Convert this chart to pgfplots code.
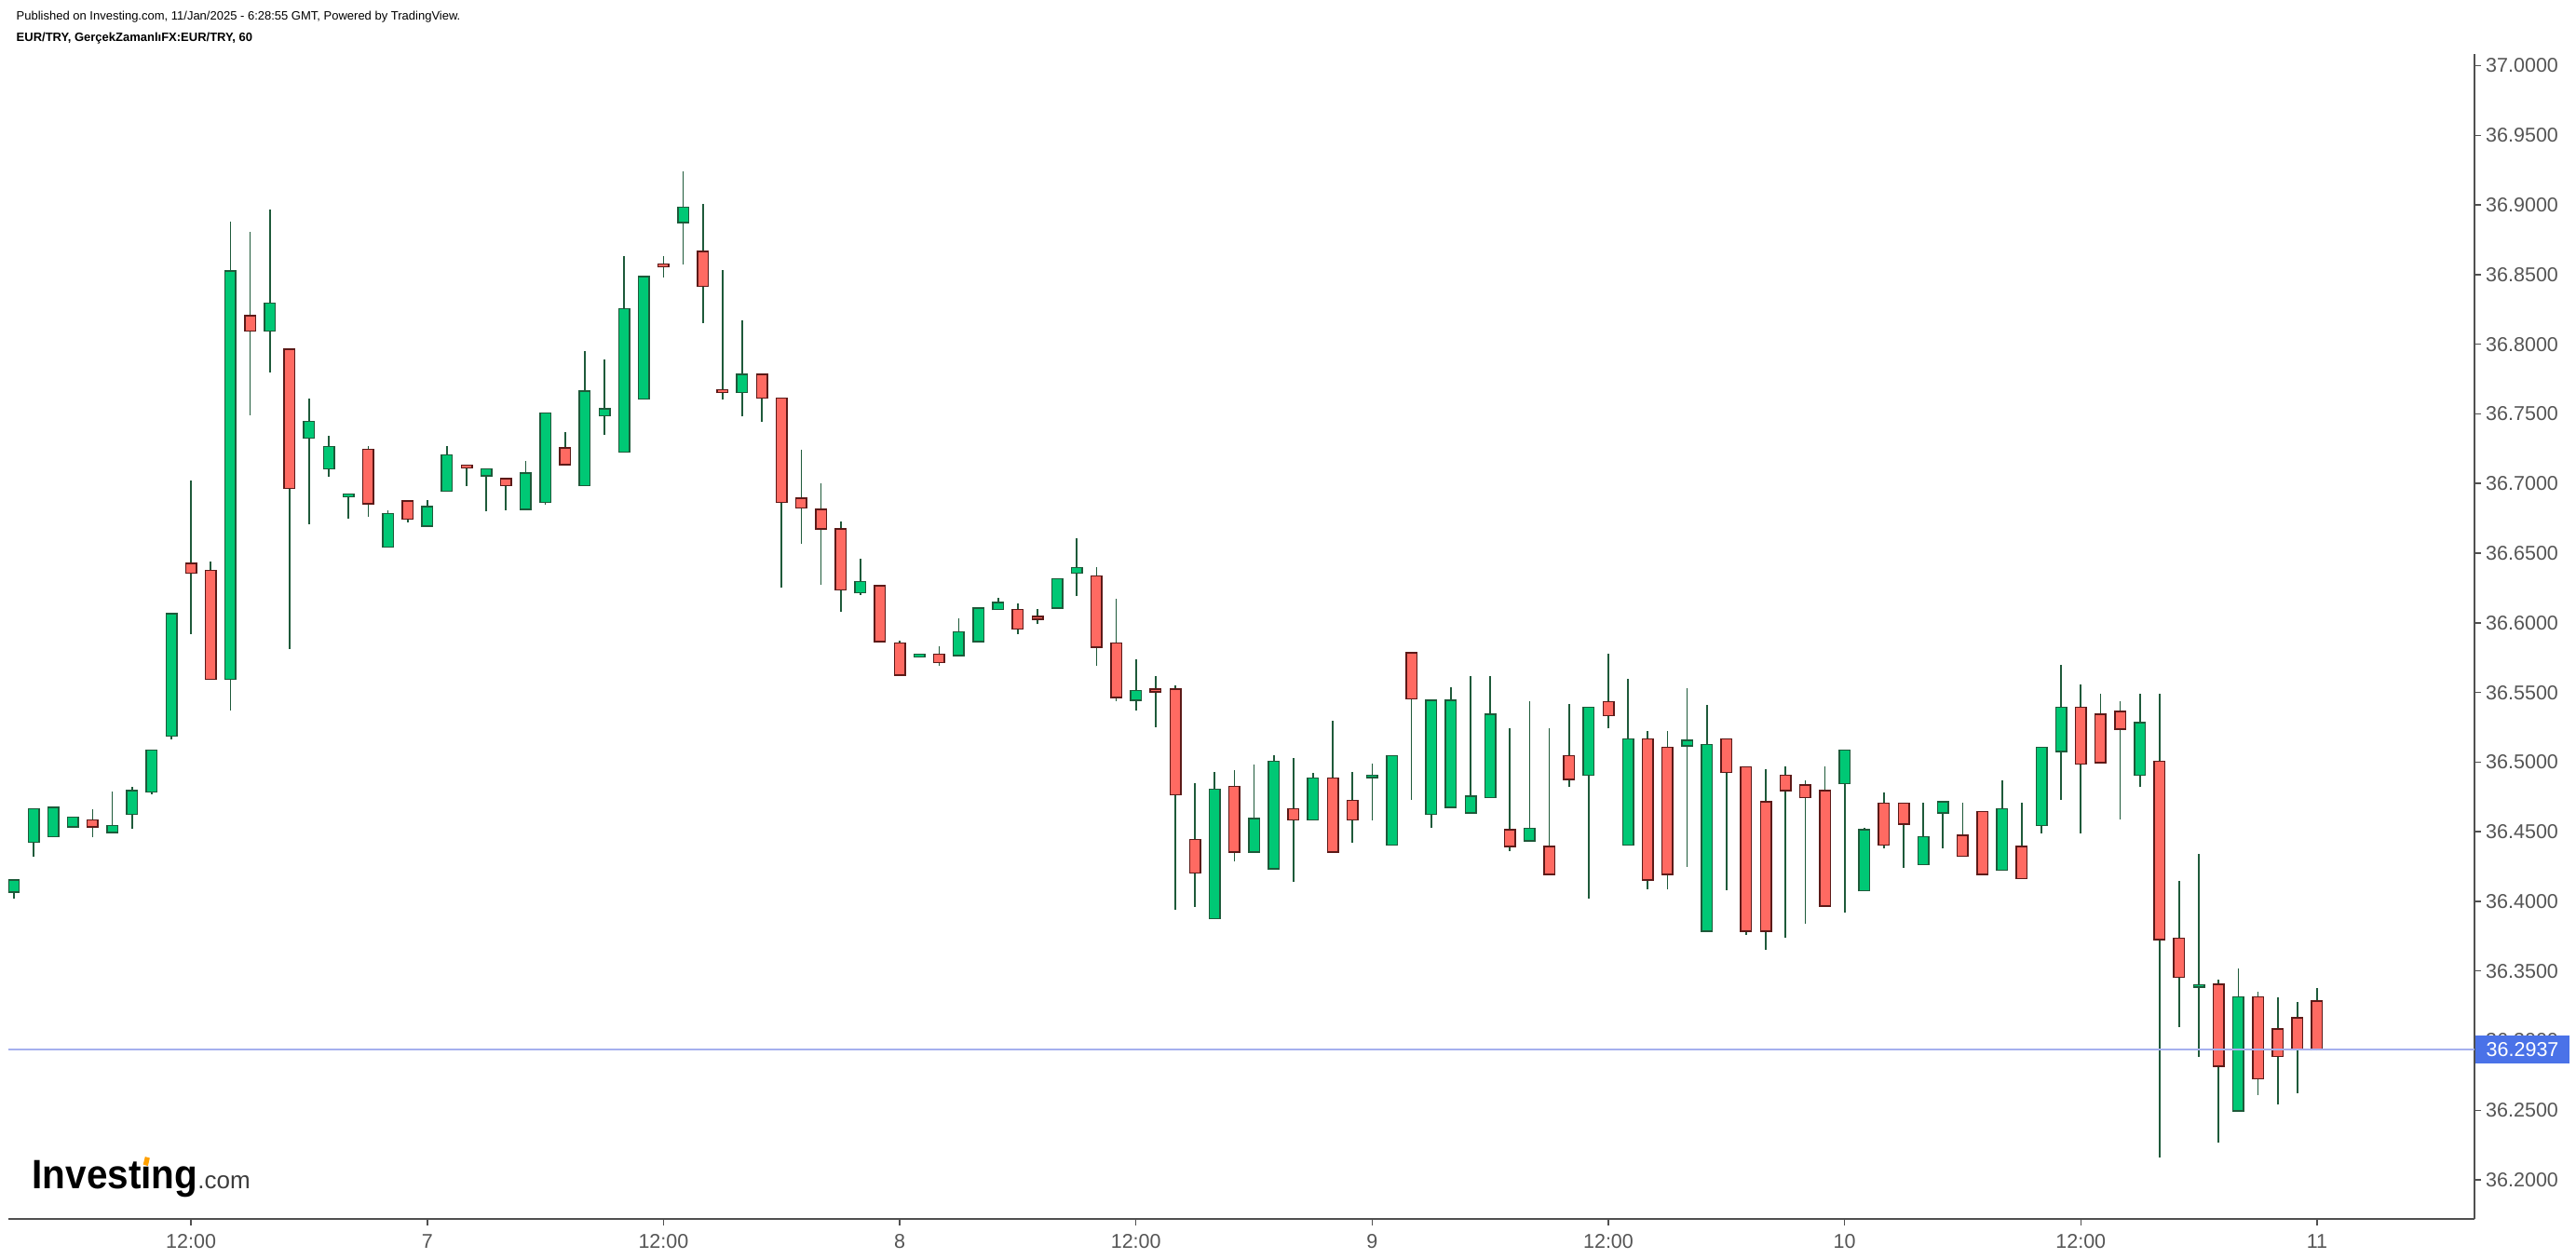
\documentclass[border=0pt]{standalone}
\usepackage{pgfplots}
\pgfplotsset{compat=1.18}
\usepackage{pgfplotstable}
\usepackage{fontspec}
\setmainfont{Liberation Sans}

\definecolor{upfill}{RGB}{0,200,117}
\definecolor{upline}{RGB}{30,90,58}
\definecolor{dnfill}{RGB}{255,106,98}
\definecolor{dnline}{RGB}{92,26,24}
\definecolor{axisgray}{RGB}{80,80,80}
\definecolor{labelgray}{RGB}{85,85,85}
\definecolor{priceblue}{RGB}{74,114,232}
\definecolor{priceline}{RGB}{165,176,238}
\definecolor{logoorange}{RGB}{255,160,0}

% EUR/TRY hourly candles, t = hours since 6 Jan 00:00
\pgfplotstableread{
t o h l c
3 36.407 36.415 36.402 36.415
4 36.443 36.467 36.432 36.466
5 36.447 36.468 36.446 36.467
6 36.454 36.460 36.454 36.460
8 36.450 36.479 36.450 36.454
9 36.463 36.482 36.452 36.479
10 36.479 36.508 36.477 36.508
11 36.519 36.606 36.516 36.606
14 36.560 36.888 36.537 36.852
16 36.810 36.897 36.780 36.829
18 36.733 36.761 36.671 36.744
19 36.711 36.734 36.705 36.726
20 36.691 36.693 36.675 36.692
22 36.655 36.681 36.655 36.678
24 36.670 36.688 36.670 36.683
25 36.695 36.727 36.695 36.720
27 36.706 36.710 36.680 36.710
29 36.682 36.716 36.682 36.707
30 36.687 36.750 36.685 36.750
32 36.699 36.795 36.699 36.766
33 36.749 36.789 36.735 36.753
34 36.723 36.863 36.723 36.825
35 36.761 36.848 36.761 36.848
37 36.888 36.924 36.857 36.898
40 36.766 36.817 36.748 36.778
46 36.622 36.646 36.620 36.629
49 36.576 36.577 36.575 36.577
51 36.577 36.603 36.577 36.593
52 36.587 36.610 36.587 36.610
53 36.610 36.618 36.610 36.614
56 36.611 36.631 36.611 36.631
57 36.636 36.661 36.619 36.639
60 36.545 36.574 36.537 36.551
64 36.388 36.493 36.388 36.480
66 36.436 36.498 36.436 36.459
67 36.424 36.505 36.424 36.500
69 36.459 36.492 36.459 36.488
72 36.4895 36.499 36.458 36.4899
73 36.441 36.504 36.441 36.504
75 36.463 36.544 36.453 36.544
76 36.468 36.554 36.468 36.544
77 36.464 36.562 36.464 36.475
78 36.475 36.562 36.475 36.534
80 36.444 36.544 36.444 36.452
83 36.491 36.539 36.402 36.539
85 36.441 36.560 36.441 36.516
88 36.512 36.553 36.425 36.515
89 36.379 36.541 36.379 36.512
96 36.485 36.508 36.392 36.508
97 36.408 36.453 36.408 36.451
100 36.427 36.471 36.427 36.446
101 36.464 36.471 36.438 36.471
104 36.423 36.487 36.423 36.466
106 36.455 36.510 36.449 36.510
107 36.508 36.570 36.473 36.539
111 36.491 36.549 36.482 36.528
114 36.339 36.434 36.288 36.3395
116 36.250 36.352 36.250 36.331
}\upbars

\pgfplotstableread{
t o h l c
7 36.458 36.466 36.446 36.454
12 36.642 36.702 36.592 36.636
13 36.637 36.644 36.560 36.560
15 36.820 36.881 36.749 36.810
17 36.796 36.796 36.581 36.697
21 36.724 36.727 36.676 36.686
23 36.687 36.687 36.672 36.675
26 36.7126 36.713 36.698 36.7117
28 36.703 36.703 36.681 36.699
31 36.725 36.737 36.714 36.714
36 36.857 36.863 36.848 36.856
38 36.866 36.901 36.815 36.842
39 36.767 36.853 36.760 36.766
41 36.778 36.778 36.744 36.762
42 36.761 36.761 36.625 36.687
43 36.689 36.724 36.657 36.683
44 36.681 36.700 36.627 36.668
45 36.667 36.673 36.608 36.624
47 36.626 36.627 36.587 36.587
48 36.585 36.587 36.563 36.563
50 36.577 36.583 36.569 36.572
54 36.609 36.614 36.592 36.596
55 36.604 36.610 36.599 36.603
58 36.633 36.640 36.569 36.583
59 36.585 36.617 36.544 36.547
61 36.552 36.562 36.525 36.551
62 36.552 36.555 36.394 36.477
63 36.444 36.485 36.396 36.421
65 36.482 36.494 36.429 36.436
68 36.466 36.503 36.414 36.459
70 36.488 36.530 36.436 36.436
71 36.472 36.493 36.442 36.459
74 36.578 36.578 36.473 36.546
79 36.451 36.524 36.436 36.440
81 36.439 36.524 36.420 36.420
82 36.504 36.542 36.482 36.488
84 36.543 36.578 36.524 36.534
86 36.516 36.522 36.409 36.416
87 36.510 36.522 36.409 36.420
90 36.516 36.516 36.408 36.493
91 36.496 36.496 36.376 36.379
92 36.471 36.495 36.365 36.379
93 36.490 36.497 36.374 36.480
94 36.483 36.487 36.384 36.475
95 36.479 36.497 36.396 36.397
98 36.470 36.478 36.438 36.441
99 36.470 36.470 36.424 36.456
102 36.447 36.471 36.433 36.433
103 36.464 36.464 36.420 36.420
105 36.439 36.471 36.417 36.417
108 36.539 36.556 36.449 36.499
109 36.534 36.549 36.500 36.500
110 36.536 36.544 36.459 36.524
112 36.500 36.549 36.216 36.373
113 36.373 36.415 36.310 36.346
115 36.340 36.344 36.227 36.282
117 36.331 36.335 36.261 36.273
118 36.308 36.331 36.254 36.289
119 36.316 36.328 36.262 36.294
120 36.328 36.338 36.293 36.2937
}\dnbars

\newcommand\logoi{\sbox0{ı}\rlap{\makebox[\wd0]{\raisebox{0.6em}{\rotatebox{-15}{\textcolor{logoorange}{\rule{0.13em}{0.2em}}}}}}\usebox0}

\begin{document}
\begin{tikzpicture}
\useasboundingbox (0,0) rectangle (276.6mm,135.2mm);

\node[anchor=base west, inner sep=0pt, font=\fontsize{1.3mm}{1.5mm}\selectfont]
  at (1.7mm,133.0mm) {Published on Investing.com, 11/Jan/2025 - 6:28:55 GMT, Powered by TradingView.};
\node[anchor=base west, inner sep=0pt, font=\fontsize{1.3mm}{1.5mm}\selectfont\bfseries]
  at (1.7mm,130.75mm) {EUR/TRY, GerçekZamanlıFX:EUR/TRY, 60};

\node[anchor=base west, inner sep=0pt] at (3.4mm,7.5mm)
  {\scalebox{0.92}[1]{\fontsize{4.4mm}{5mm}\selectfont\bfseries Invest\logoi ng}%
   {\fontsize{2.6mm}{3mm}\selectfont\color[RGB]{60,60,60}.com}};

\begin{axis}[
  at={(0.9mm,4.3mm)}, anchor=south west,
  scale only axis, width=264.8mm, height=125.1mm,
  xmin=2.72, xmax=128, ymin=36.172, ymax=37.0084,
  axis x line*=bottom, axis y line*=right,
  axis line style={draw=axisgray, line width=0.25mm, -},
  tick style={draw=axisgray, line width=0.15mm},
  tick align=outside, major tick length=0.7mm,
  xtick={12,24,36,48,60,72,84,96,108,120},
  xticklabels={12:00,7,12:00,8,12:00,9,12:00,10,12:00,11},
  ytick={36.20,36.25,36.30,36.35,36.40,36.45,36.50,36.55,36.60,36.65,36.70,36.75,36.80,36.85,36.90,36.95,37.00},
  ticklabel style={font=\fontsize{2.15mm}{2.5mm}\selectfont, text=labelgray, inner sep=0pt},
  yticklabel style={anchor=west, xshift=0.45mm, /pgf/number format/.cd, fixed, fixed zerofill, precision=4, assume math mode=true},
  xticklabel style={anchor=north, yshift=-0.9mm},
  clip mode=individual,
]
% wicks
\addplot[draw=none, mark=none, error bars/.cd, y dir=plus, y explicit, error mark=none,
  error bar style={draw=upline, line width=0.17mm}]
  table[x=t, y=l, y error expr=\thisrow{h}-\thisrow{l}] {\upbars};
\addplot[draw=none, mark=none, error bars/.cd, y dir=plus, y explicit, error mark=none,
  error bar style={draw=upline, line width=0.17mm}]
  table[x=t, y=l, y error expr=\thisrow{h}-\thisrow{l}] {\dnbars};
% bodies: outline then fill
\addplot[draw=none, mark=none, error bars/.cd, y dir=plus, y explicit, error mark=none,
  error bar style={draw=upline, line width=1.3mm}]
  table[x=t, y expr=\thisrow{o}-0.001, y error expr=\thisrow{c}-\thisrow{o}+0.002] {\upbars};
\addplot[draw=none, mark=none, error bars/.cd, y dir=plus, y explicit, error mark=none,
  error bar style={draw=upfill, line width=1.0mm}]
  table[x=t, y=o, y error expr=\thisrow{c}-\thisrow{o}] {\upbars};
\addplot[draw=none, mark=none, error bars/.cd, y dir=plus, y explicit, error mark=none,
  error bar style={draw=dnline, line width=1.3mm}]
  table[x=t, y expr=\thisrow{c}-0.001, y error expr=\thisrow{o}-\thisrow{c}+0.002] {\dnbars};
\addplot[draw=none, mark=none, error bars/.cd, y dir=plus, y explicit, error mark=none,
  error bar style={draw=dnfill, line width=1.0mm}]
  table[x=t, y=c, y error expr=\thisrow{o}-\thisrow{c}] {\dnbars};
% last price line
\addplot[priceline, line width=0.12mm] coordinates {(2.72,36.2937) (128,36.2937)};
\node[fill=priceblue, text=white, anchor=west, inner xsep=1.2mm, inner ysep=0pt,
  minimum height=3mm, font=\fontsize{2.15mm}{2.5mm}\selectfont]
  at (axis cs:128,36.2937) {36.2937};
\end{axis}
\end{tikzpicture}
\end{document}
